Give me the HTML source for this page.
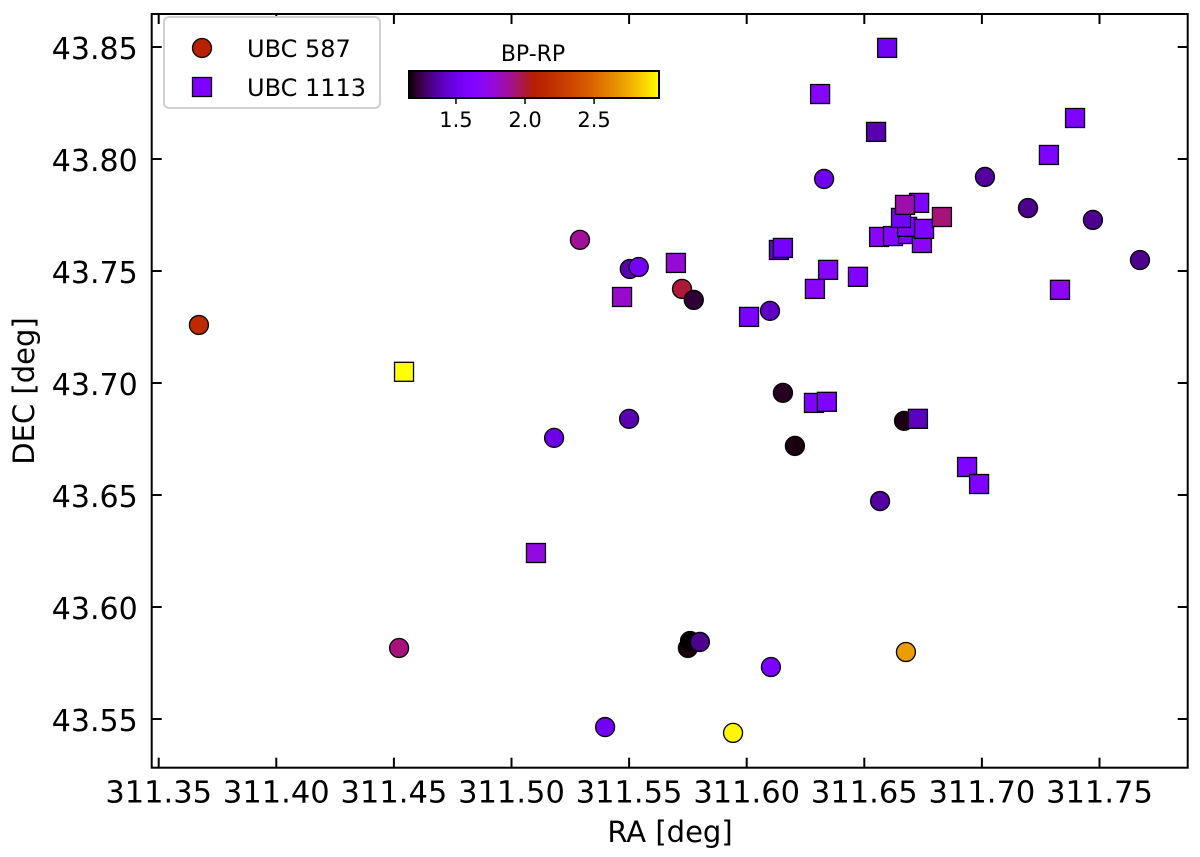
<!DOCTYPE html>
<html><head><meta charset="utf-8"><style>
html,body{margin:0;padding:0;background:#fff;}
svg{display:block;font-family:"DejaVu Sans","Liberation Sans",sans-serif;}
</style></head><body>
<svg id="chart" width="1200" height="857" viewBox="0 0 1200 857" xmlns="http://www.w3.org/2000/svg">
<defs><linearGradient id="cmap" x1="0" x2="1" y1="0" y2="0"></linearGradient></defs>
<rect x="0" y="0" width="1200" height="857" fill="#fff"/>
<g id="marks"></g>
<g id="axes"></g>
<text x="670" y="842" font-size="29" text-anchor="middle">RA [deg]</text>
<text x="0" y="0" font-size="29" text-anchor="middle" transform="translate(34,391) rotate(-90)">DEC [deg]</text>
<g>
<rect x="164" y="17" width="216" height="91" rx="5" fill="#fff" stroke="#d0d0d0" stroke-width="2"/>
<circle cx="202" cy="48" r="9.5" fill="#b82000" stroke="#000" stroke-width="1.3"/>
<text x="247" y="57" font-size="24">UBC 587</text>
<rect x="192.5" y="77.5" width="19" height="19" fill="#7f00ff" stroke="#000" stroke-width="1.3"/>
<text x="247" y="96" font-size="24">UBC 1113</text>
</g>
<g id="cbar">
<text x="533" y="61" font-size="22" text-anchor="middle">BP-RP</text>
</g>
</svg>
<script>
const circRA = [311.3671,311.5291,311.5503,311.5541,311.5725,311.5775,311.6329,311.7013,311.7196,311.7472,311.7672,311.6099,311.6154,311.6669,311.6205,311.5500,311.5181,311.6567,311.4522,311.5750,311.5759,311.5801,311.6103,311.6677,311.5398,311.5942];
const circDEC = [43.7259,43.7639,43.7509,43.7518,43.7420,43.7371,43.7911,43.7920,43.7781,43.7728,43.7549,43.7322,43.6956,43.6831,43.6719,43.6840,43.6755,43.6473,43.5817,43.5817,43.5848,43.5844,43.5732,43.5799,43.5464,43.5438];
const circBPRP = [2.15,1.88,1.38,1.55,2.0,1.22,1.5,1.35,1.33,1.33,1.33,1.42,1.2,1.18,1.18,1.38,1.48,1.36,1.92,1.18,1.08,1.33,1.58,2.7,1.52,2.95];
const sqRA = [311.6597,311.6312,311.6550,311.7396,311.7285,311.6137,311.6154,311.6346,311.6290,311.6473,311.7332,311.5699,311.5470,311.4543,311.6010,311.6286,311.6341,311.6728,311.6937,311.6988,311.5104,311.6563,311.6622,311.6686,311.6745,311.6682,311.6656,311.6754,311.6733,311.6673,311.6830];
const sqDEC = [43.8496,43.8290,43.8121,43.8183,43.8018,43.7594,43.7603,43.7505,43.7420,43.7474,43.7416,43.7536,43.7384,43.7050,43.7295,43.6911,43.6916,43.6840,43.6625,43.6549,43.6241,43.7652,43.7656,43.7665,43.7625,43.7697,43.7737,43.7688,43.7804,43.7795,43.7741];
const sqBPRP = [1.52,1.65,1.38,1.6,1.6,1.45,1.55,1.65,1.68,1.62,1.7,1.78,1.8,2.97,1.58,1.6,1.6,1.4,1.6,1.6,1.75,1.68,1.65,1.6,1.7,1.6,1.55,1.6,1.6,1.85,1.92];
const xTicks = [311.35,311.40,311.45,311.50,311.55,311.60,311.65,311.70,311.75];
const yTicks = [43.55,43.60,43.65,43.70,43.75,43.80,43.85];
const cbTicks = [1.5,2.0,2.5];

const NS = "http://www.w3.org/2000/svg";
const L=151.7,R=1187.7,T=14,B=767.7;
const VMIN=1.16,VMAX=2.97;
function xs(ra){return 158.7+(ra-311.35)*2352;}
function ys(d){return 47+(43.85-d)*2240;}
function gnu(t){t=Math.max(0,Math.min(1,t));
  const r=Math.sqrt(t),g=t*t*t,b=Math.max(0,Math.sin(2*Math.PI*t));
  return "rgb("+Math.round(r*255)+","+Math.round(g*255)+","+Math.round(b*255)+")";}
function col(v){return gnu((v-VMIN)/(VMAX-VMIN));}
function mk(tag,attrs,parent){const e=document.createElementNS(NS,tag);for(const k in attrs)e.setAttribute(k,attrs[k]);parent.appendChild(e);return e;}

const marks=document.getElementById('marks');
for(let i=0;i<circRA.length;i++){
  const c=mk('circle',{cx:xs(circRA[i]),cy:ys(circDEC[i]),r:9.5,fill:col(circBPRP[i]),stroke:'#000','stroke-width':1.3},marks);
  
  
}
for(let i=0;i<sqRA.length;i++){
  const s=mk('rect',{x:xs(sqRA[i])-9.5,y:ys(sqDEC[i])-9.5,width:19,height:19,fill:col(sqBPRP[i]),stroke:'#000','stroke-width':1.3},marks);
  
  
}

const axes=document.getElementById('axes');
const frame=mk('rect',{x:L,y:T,width:R-L,height:B-T,fill:'none',stroke:'#000','stroke-width':2},axes);


xTicks.forEach(v=>{
  const x=xs(v);
  mk('line',{x1:x,x2:x,y1:B,y2:B-10,stroke:'#000','stroke-width':2},axes);
  mk('line',{x1:x,x2:x,y1:T,y2:T+10,stroke:'#000','stroke-width':2},axes);
  const t=mk('text',{x:x,y:B+35,'font-size':30.5,'text-anchor':'middle'},axes);
  t.textContent=v.toFixed(2);
  
  
});
yTicks.forEach(v=>{
  const y=ys(v);
  mk('line',{x1:L,x2:L+10,y1:y,y2:y,stroke:'#000','stroke-width':2},axes);
  mk('line',{x1:R,x2:R-10,y1:y,y2:y,stroke:'#000','stroke-width':2},axes);
  const t=mk('text',{x:L-14,y:y+12,'font-size':30,'text-anchor':'end'},axes);
  t.textContent=v.toFixed(2);
  
  
});

const grad=document.getElementById('cmap');
for(let i=0;i<=40;i++){mk('stop',{offset:(i/40),'stop-color':gnu(i/40)},grad);}
const cb=document.getElementById('cbar');
const CX0=409,CX1=659,CY0=71,CY1=98;
const bar=mk('rect',{x:CX0,y:CY0,width:CX1-CX0,height:CY1-CY0,fill:'url(#cmap)',stroke:'#000','stroke-width':2},cb);


cbTicks.forEach(v=>{
  const x=CX0+(v-VMIN)/(VMAX-VMIN)*(CX1-CX0);
  mk('line',{x1:x,x2:x,y1:CY1,y2:CY1+6,stroke:'#000','stroke-width':1.5},cb);
  const t=mk('text',{x:x,y:CY1+29,'font-size':21,'text-anchor':'middle'},cb);
  t.textContent=v.toFixed(1);
  
  
});
</script>
</body></html>
